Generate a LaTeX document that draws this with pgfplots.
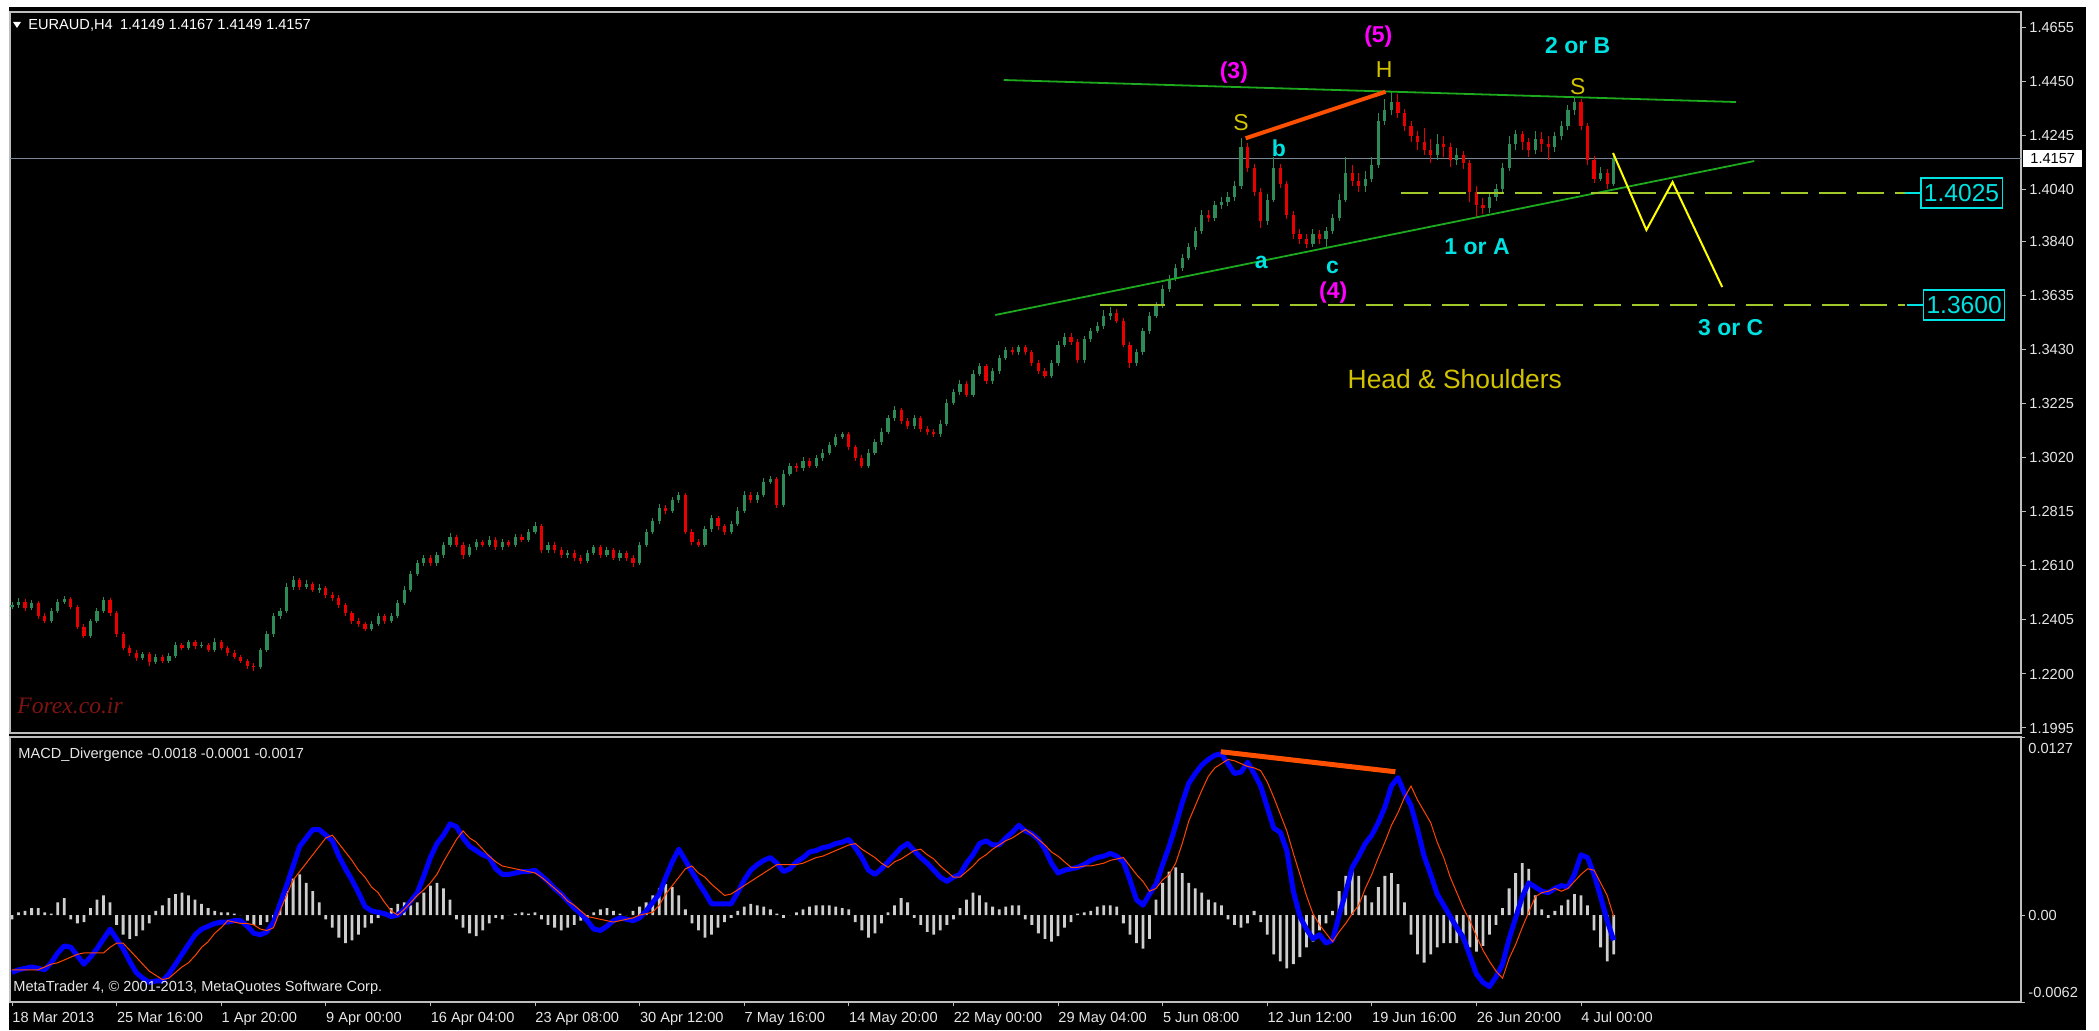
\documentclass[border=0pt]{standalone}
\usepackage{fontspec}
\setmainfont{Liberation Sans}
\newfontfamily\forexfont{Liberation Serif}
\usepackage{pgfplots}
\pgfplotsset{compat=1.18}
\usepackage{pgfplotstable}

\definecolor{framec}{RGB}{190,190,190}
\definecolor{tickc}{RGB}{230,230,230}
\definecolor{upc}{RGB}{46,139,87}
\definecolor{dnc}{RGB}{230,0,0}
\definecolor{trend}{RGB}{30,170,30}
\definecolor{lvl}{RGB}{160,200,40}
\definecolor{cyanl}{RGB}{0,225,225}
\definecolor{magl}{RGB}{255,0,255}
\definecolor{goldc}{RGB}{210,195,0}
\definecolor{oranger}{RGB}{255,80,0}
\definecolor{macdblue}{RGB}{0,0,255}
\definecolor{sigor}{RGB}{255,69,0}
\definecolor{histc}{RGB}{205,205,205}
\definecolor{pline}{RGB}{119,136,153}
\definecolor{forexc}{RGB}{125,20,20}
\definecolor{yel}{RGB}{255,255,0}

\newcommand{\tickfont}{\fontsize{7.3}{8.8}\selectfont}
\newcommand{\annfont}{\bfseries\fontsize{11.5}{13}\selectfont}
\newcommand{\sfont}{\fontsize{11.5}{13}\selectfont}

% EURAUD H4 candles, two 4h bars per candle: index, open, high, low, close, up(1)/down(0)
\pgfplotstableread{
j o h l c u
0 1.2455 1.2472 1.2445 1.2462 1
1 1.2462 1.2487 1.2452 1.2475 1
2 1.2475 1.2485 1.2440 1.2450 0
3 1.2450 1.2480 1.2441 1.2470 1
4 1.2470 1.2478 1.2410 1.2420 0
5 1.2420 1.2430 1.2392 1.2400 0
6 1.2400 1.2450 1.2395 1.2440 1
7 1.2440 1.2485 1.2432 1.2475 1
8 1.2475 1.2495 1.2465 1.2485 1
9 1.2485 1.2492 1.2448 1.2455 0
10 1.2455 1.2462 1.2370 1.2380 0
11 1.2380 1.2390 1.2336 1.2345 0
12 1.2345 1.2410 1.2338 1.2400 1
13 1.2400 1.2450 1.2392 1.2440 1
14 1.2440 1.2492 1.2432 1.2480 1
15 1.2480 1.2488 1.2420 1.2430 0
16 1.2430 1.2438 1.2340 1.2350 0
17 1.2350 1.2358 1.2290 1.2300 0
18 1.2300 1.2310 1.2268 1.2280 0
19 1.2280 1.2290 1.2250 1.2260 0
20 1.2260 1.2285 1.2252 1.2275 1
21 1.2275 1.2283 1.2230 1.2245 0
22 1.2245 1.2275 1.2238 1.2265 1
23 1.2265 1.2272 1.2240 1.2250 0
24 1.2250 1.2280 1.2242 1.2270 1
25 1.2270 1.2322 1.2262 1.2310 1
26 1.2310 1.2318 1.2292 1.2300 0
27 1.2300 1.2330 1.2292 1.2320 1
28 1.2320 1.2328 1.2296 1.2305 0
29 1.2305 1.2320 1.2298 1.2310 1
30 1.2310 1.2318 1.2282 1.2290 0
31 1.2290 1.2336 1.2284 1.2320 1
32 1.2320 1.2328 1.2290 1.2300 0
33 1.2300 1.2308 1.2270 1.2280 0
34 1.2280 1.2290 1.2255 1.2265 0
35 1.2265 1.2272 1.2240 1.2250 0
36 1.2250 1.2258 1.2220 1.2230 0
37 1.2230 1.2240 1.2213 1.2225 0
38 1.2225 1.2300 1.2218 1.2290 1
39 1.2290 1.2362 1.2282 1.2350 1
40 1.2350 1.2430 1.2342 1.2420 1
41 1.2420 1.2450 1.2410 1.2440 1
42 1.2440 1.2545 1.2432 1.2530 1
43 1.2530 1.2572 1.2520 1.2555 1
44 1.2555 1.2565 1.2520 1.2530 0
45 1.2530 1.2555 1.2522 1.2540 1
46 1.2540 1.2550 1.2510 1.2520 0
47 1.2520 1.2540 1.2508 1.2525 1
48 1.2525 1.2535 1.2490 1.2500 0
49 1.2500 1.2512 1.2478 1.2490 0
50 1.2490 1.2498 1.2450 1.2460 0
51 1.2460 1.2470 1.2420 1.2430 0
52 1.2430 1.2440 1.2390 1.2400 0
53 1.2400 1.2412 1.2380 1.2390 0
54 1.2390 1.2398 1.2362 1.2370 0
55 1.2370 1.2402 1.2362 1.2390 1
56 1.2390 1.2430 1.2382 1.2420 1
57 1.2420 1.2428 1.2390 1.2400 0
58 1.2400 1.2432 1.2392 1.2420 1
59 1.2420 1.2480 1.2412 1.2470 1
60 1.2470 1.2532 1.2462 1.2520 1
61 1.2520 1.2592 1.2512 1.2580 1
62 1.2580 1.2632 1.2570 1.2620 1
63 1.2620 1.2652 1.2610 1.2640 1
64 1.2640 1.2650 1.2608 1.2620 0
65 1.2620 1.2662 1.2610 1.2650 1
66 1.2650 1.2702 1.2640 1.2690 1
67 1.2690 1.2735 1.2680 1.2720 1
68 1.2720 1.2728 1.2680 1.2690 0
69 1.2690 1.2700 1.2638 1.2650 0
70 1.2650 1.2692 1.2642 1.2680 1
71 1.2680 1.2712 1.2670 1.2700 1
72 1.2700 1.2710 1.2680 1.2690 0
73 1.2690 1.2722 1.2682 1.2710 1
74 1.2710 1.2718 1.2670 1.2680 0
75 1.2680 1.2712 1.2672 1.2700 1
76 1.2700 1.2710 1.2680 1.2690 0
77 1.2690 1.2730 1.2682 1.2720 1
78 1.2720 1.2730 1.2700 1.2710 0
79 1.2710 1.2752 1.2702 1.2740 1
80 1.2740 1.2776 1.2730 1.2760 1
81 1.2760 1.2770 1.2660 1.2670 0
82 1.2670 1.2702 1.2660 1.2690 1
83 1.2690 1.2700 1.2660 1.2670 0
84 1.2670 1.2680 1.2640 1.2650 0
85 1.2650 1.2672 1.2640 1.2660 1
86 1.2660 1.2670 1.2630 1.2640 0
87 1.2640 1.2652 1.2618 1.2630 0
88 1.2630 1.2672 1.2622 1.2660 1
89 1.2660 1.2690 1.2650 1.2680 1
90 1.2680 1.2688 1.2640 1.2650 0
91 1.2650 1.2680 1.2642 1.2670 1
92 1.2670 1.2678 1.2632 1.2640 0
93 1.2640 1.2670 1.2630 1.2660 1
94 1.2660 1.2668 1.2630 1.2640 0
95 1.2640 1.2650 1.2606 1.2620 0
96 1.2620 1.2700 1.2612 1.2690 1
97 1.2690 1.2752 1.2680 1.2740 1
98 1.2740 1.2792 1.2730 1.2780 1
99 1.2780 1.2845 1.2770 1.2830 1
100 1.2830 1.2842 1.2808 1.2820 0
101 1.2820 1.2872 1.2810 1.2860 1
102 1.2860 1.2890 1.2850 1.2880 1
103 1.2880 1.2885 1.2730 1.2740 0
104 1.2740 1.2752 1.2688 1.2700 0
105 1.2700 1.2712 1.2682 1.2690 0
106 1.2690 1.2762 1.2682 1.2750 1
107 1.2750 1.2805 1.2740 1.2790 1
108 1.2790 1.2798 1.2748 1.2760 0
109 1.2760 1.2770 1.2728 1.2740 0
110 1.2740 1.2782 1.2730 1.2770 1
111 1.2770 1.2832 1.2760 1.2820 1
112 1.2820 1.2895 1.2810 1.2880 1
113 1.2880 1.2890 1.2848 1.2860 0
114 1.2860 1.2892 1.2850 1.2880 1
115 1.2880 1.2942 1.2870 1.2930 1
116 1.2930 1.2950 1.2920 1.2940 1
117 1.2940 1.2948 1.2830 1.2840 0
118 1.2840 1.2975 1.2832 1.2960 1
119 1.2960 1.3002 1.2950 1.2990 1
120 1.2990 1.3000 1.2968 1.2980 0
121 1.2980 1.3022 1.2970 1.3010 1
122 1.3010 1.3020 1.2980 1.2990 0
123 1.2990 1.3032 1.2980 1.3020 1
124 1.3020 1.3052 1.3010 1.3040 1
125 1.3040 1.3082 1.3030 1.3070 1
126 1.3070 1.3112 1.3060 1.3100 1
127 1.3100 1.3120 1.3090 1.3110 1
128 1.3110 1.3118 1.3050 1.3060 0
129 1.3060 1.3070 1.3010 1.3020 0
130 1.3020 1.3030 1.2980 1.2990 0
131 1.2990 1.3052 1.2982 1.3040 1
132 1.3040 1.3092 1.3030 1.3080 1
133 1.3080 1.3132 1.3070 1.3120 1
134 1.3120 1.3182 1.3110 1.3170 1
135 1.3170 1.3217 1.3160 1.3200 1
136 1.3200 1.3210 1.3150 1.3160 0
137 1.3160 1.3170 1.3130 1.3140 0
138 1.3140 1.3182 1.3130 1.3170 1
139 1.3170 1.3180 1.3120 1.3130 0
140 1.3130 1.3140 1.3108 1.3120 0
141 1.3120 1.3130 1.3099 1.3110 0
142 1.3110 1.3162 1.3100 1.3150 1
143 1.3150 1.3242 1.3140 1.3230 1
144 1.3230 1.3282 1.3220 1.3270 1
145 1.3270 1.3315 1.3260 1.3300 1
146 1.3300 1.3310 1.3250 1.3260 0
147 1.3260 1.3352 1.3250 1.3340 1
148 1.3340 1.3380 1.3330 1.3370 1
149 1.3370 1.3378 1.3300 1.3310 0
150 1.3310 1.3362 1.3300 1.3350 1
151 1.3350 1.3412 1.3340 1.3400 1
152 1.3400 1.3442 1.3390 1.3430 1
153 1.3430 1.3440 1.3410 1.3420 0
154 1.3420 1.3448 1.3410 1.3440 1
155 1.3440 1.3450 1.3410 1.3420 0
156 1.3420 1.3430 1.3370 1.3380 0
157 1.3380 1.3390 1.3340 1.3350 0
158 1.3350 1.3360 1.3323 1.3330 0
159 1.3330 1.3392 1.3322 1.3380 1
160 1.3380 1.3462 1.3370 1.3450 1
161 1.3450 1.3495 1.3440 1.3480 1
162 1.3480 1.3492 1.3450 1.3460 0
163 1.3460 1.3470 1.3380 1.3390 0
164 1.3390 1.3482 1.3380 1.3470 1
165 1.3470 1.3512 1.3460 1.3500 1
166 1.3500 1.3535 1.3494 1.3520 1
167 1.3520 1.3580 1.3510 1.3560 1
168 1.3560 1.3592 1.3545 1.3570 1
169 1.3570 1.3585 1.3530 1.3540 0
170 1.3540 1.3550 1.3440 1.3450 0
171 1.3450 1.3460 1.3361 1.3380 0
172 1.3380 1.3432 1.3370 1.3420 1
173 1.3420 1.3512 1.3410 1.3500 1
174 1.3500 1.3572 1.3490 1.3560 1
175 1.3560 1.3612 1.3550 1.3600 1
176 1.3600 1.3675 1.3590 1.3660 1
177 1.3660 1.3715 1.3650 1.3700 1
178 1.3700 1.3755 1.3690 1.3740 1
179 1.3740 1.3795 1.3730 1.3780 1
180 1.3780 1.3835 1.3770 1.3820 1
181 1.3820 1.3895 1.3810 1.3880 1
182 1.3880 1.3960 1.3870 1.3940 1
183 1.3940 1.3960 1.3915 1.3930 0
184 1.3930 1.3995 1.3920 1.3980 1
185 1.3980 1.4010 1.3965 1.3990 1
186 1.3990 1.4030 1.3975 1.4010 1
187 1.4010 1.4070 1.3995 1.4050 1
188 1.4050 1.4234 1.4040 1.4200 1
189 1.4200 1.4215 1.4105 1.4120 0
190 1.4120 1.4135 1.4015 1.4030 0
191 1.4030 1.4045 1.3892 1.3920 0
192 1.3920 1.4020 1.3905 1.4000 1
193 1.4000 1.4162 1.3990 1.4120 1
194 1.4120 1.4135 1.4045 1.4060 0
195 1.4060 1.4070 1.3925 1.3940 0
196 1.3940 1.3955 1.3850 1.3870 0
197 1.3870 1.3890 1.3830 1.3850 0
198 1.3850 1.3870 1.3816 1.3830 0
199 1.3830 1.3890 1.3820 1.3870 1
200 1.3870 1.3885 1.3830 1.3850 0
201 1.3850 1.3895 1.3818 1.3880 1
202 1.3880 1.3945 1.3870 1.3930 1
203 1.3930 1.4020 1.3920 1.4000 1
204 1.4000 1.4162 1.3990 1.4100 1
205 1.4100 1.4130 1.4050 1.4070 0
206 1.4070 1.4100 1.4030 1.4050 0
207 1.4050 1.4110 1.4030 1.4080 1
208 1.4080 1.4160 1.4065 1.4130 1
209 1.4130 1.4330 1.4120 1.4300 1
210 1.4300 1.4380 1.4285 1.4340 1
211 1.4340 1.4408 1.4320 1.4370 1
212 1.4370 1.4400 1.4310 1.4330 0
213 1.4330 1.4345 1.4260 1.4280 0
214 1.4280 1.4300 1.4220 1.4240 0
215 1.4240 1.4260 1.4190 1.4220 0
216 1.4220 1.4270 1.4170 1.4190 0
217 1.4190 1.4230 1.4140 1.4170 0
218 1.4170 1.4250 1.4150 1.4210 1
219 1.4210 1.4240 1.4160 1.4200 0
220 1.4200 1.4215 1.4125 1.4150 0
221 1.4150 1.4195 1.4130 1.4170 1
222 1.4170 1.4185 1.4115 1.4140 0
223 1.4140 1.4150 1.3990 1.4030 0
224 1.4030 1.4050 1.3934 1.3980 0
225 1.3980 1.4005 1.3945 1.3970 0
226 1.3970 1.4025 1.3950 1.4010 1
227 1.4010 1.4060 1.3995 1.4040 1
228 1.4040 1.4140 1.4030 1.4120 1
229 1.4120 1.4240 1.4110 1.4210 1
230 1.4210 1.4264 1.4190 1.4250 1
231 1.4250 1.4260 1.4190 1.4220 0
232 1.4220 1.4235 1.4160 1.4190 0
233 1.4190 1.4260 1.4175 1.4230 1
234 1.4230 1.4255 1.4180 1.4210 0
235 1.4210 1.4240 1.4150 1.4200 0
236 1.4200 1.4255 1.4180 1.4240 1
237 1.4240 1.4300 1.4225 1.4280 1
238 1.4280 1.4360 1.4265 1.4340 1
239 1.4340 1.4389 1.4320 1.4370 1
240 1.4370 1.4380 1.4265 1.4280 0
241 1.4280 1.4290 1.4130 1.4150 0
242 1.4150 1.4165 1.4063 1.4080 0
243 1.4080 1.4125 1.4070 1.4100 1
244 1.4100 1.4115 1.4040 1.4060 0
245 1.4060 1.4177 1.4050 1.4157 1
}\candles

% MACD (m), signal (s), histogram (h), in units of 0.0001
\pgfplotstableread{
j m s h
0 -41 -39 -3
1 -39 -39 2
2 -38 -39 3
3 -37 -39 5
4 -38 -39 5
5 -39 -37 2
6 -34 -35 1
7 -27 -34 9
8 -22 -32 12
9 -23 -30 -3
10 -29 -28 -6
11 -35 -27 -5
12 -30 -27 5
13 -24 -27 11
14 -17 -27 14
15 -10 -23 9
16 -17 -20 -7
17 -24 -20 -14
18 -33 -25 -17
19 -41 -30 -15
20 -45 -35 -11
21 -48 -40 -6
22 -47 -43 3
23 -47 -46 7
24 -42 -45 12
25 -35 -41 15
26 -28 -37 16
27 -21 -34 14
28 -14 -29 11
29 -10 -23 8
30 -8 -19 5
31 -6 -13 3
32 -5 -9 2
33 -5 -4 2
34 -4 -5 1
35 -4 -6 0
36 -8 -6 -4
37 -13 -7 -7
38 -14 -10 -7
39 -12 -11 -5
40 -5 -9 -2
41 8 3 7
42 21 14 17
43 35 25 26
44 49 31 29
45 55 37 23
46 61 43 17
47 61 49 9
48 57 55 -3
49 53 57 -9
50 42 51 -16
51 33 45 -20
52 25 39 -18
53 16 32 -14
54 6 27 -9
55 3 20 -6
56 2 16 -2
57 1 9 2
58 -1 3 5
59 0 0 8
60 4 4 9
61 10 9 7
62 16 14 9
63 28 18 16
64 41 23 21
65 51 29 23
66 57 38 19
67 65 46 11
68 63 54 -3
69 55 60 -9
70 49 55 -13
71 46 52 -15
72 43 47 -11
73 41 42 -6
74 33 38 -2
75 29 35 -3
76 29 34 0
77 30 33 1
78 31 32 2
79 31 31 1
80 32 30 2
81 28 27 -3
82 24 23 -7
83 19 19 -9
84 15 15 -11
85 10 10 -9
86 5 7 -7
87 1 3 -4
88 -4 -1 -2
89 -10 -2 2
90 -11 -3 4
91 -8 -4 5
92 -4 -5 3
93 -2 -4 1
94 -3 -3 0
95 -4 -2 3
96 -2 0 6
97 3 1 9
98 9 2 14
99 15 7 19
100 27 15 22
101 38 21 20
102 47 27 14
103 39 33 4
104 31 35 -6
105 23 30 -11
106 16 27 -16
107 8 22 -14
108 8 18 -9
109 8 14 -5
110 8 15 -2
111 16 18 3
112 25 21 6
113 32 24 8
114 36 27 7
115 39 30 6
116 41 33 4
117 37 36 1
118 31 36 -2
119 33 36 0
120 38 36 2
121 41 37 4
122 45 39 6
123 46 41 7
124 48 42 7
125 49 44 7
126 51 46 6
127 52 48 5
128 54 50 4
129 48 51 -5
130 41 47 -11
131 32 44 -16
132 29 41 -13
133 33 37 -6
134 38 34 2
135 43 38 7
136 48 40 12
137 51 43 9
138 46 46 -2
139 41 47 -7
140 37 43 -12
141 32 40 -14
142 27 35 -11
143 24 31 -7
144 27 27 -3
145 29 27 5
146 37 31 11
147 43 35 16
148 51 40 14
149 53 43 9
150 50 47 6
151 50 50 4
152 55 53 6
153 59 55 7
154 64 58 7
155 60 61 -3
156 58 58 -7
157 54 54 -13
158 47 50 -17
159 37 45 -19
160 30 42 -15
161 32 38 -9
162 33 34 -5
163 34 34 1
164 36 35 2
165 39 35 3
166 41 36 6
167 42 37 7
168 44 39 7
169 42 40 6
170 38 41 -6
171 25 35 -14
172 11 29 -20
173 7 24 -24
174 15 17 -17
175 22 19 11
176 36 25 23
177 49 29 31
178 64 37 34
179 80 51 30
180 94 67 23
181 101 78 19
182 107 89 16
183 111 99 11
184 114 105 9
185 115 108 7
186 108 111 -3
187 101 110 -7
188 102 108 -9
189 109 106 -6
190 101 105 3
191 92 103 -5
192 77 95 -14
193 62 84 -28
194 59 72 -33
195 46 60 -38
196 17 44 -35
197 -1 29 -30
198 -10 14 -23
199 -17 1 -19
200 -14 -7 -11
201 -20 -13 -6
202 -18 -19 3
203 0 -12 17
204 16 -6 28
205 34 1 34
206 42 7 28
207 51 19 14
208 57 29 9
209 66 41 20
210 77 52 28
211 92 64 30
212 98 73 22
213 87 84 9
214 78 92 -14
215 61 82 -28
216 42 74 -34
217 29 66 -28
218 15 52 -23
219 7 41 -20
220 -1 27 -20
221 -9 16 -20
222 -16 5 -19
223 -29 -4 -23
224 -42 -15 -26
225 -48 -25 -22
226 -51 -33 -14
227 -44 -40 -7
228 -35 -45 5
229 -17 -31 19
230 -2 -21 30
231 13 -9 37
232 23 2 33
233 20 13 14
234 17 16 4
235 16 17 -2
236 19 19 3
237 21 17 7
238 20 19 11
239 29 24 15
240 43 29 14
241 41 33 7
242 29 32 -11
243 13 23 -23
244 -4 14 -33
245 -18 -1 -28
}\macd

\begin{document}
\begin{tikzpicture}
\useasboundingbox (0,0) rectangle (1049.5pt,515pt);
\fill[white] (0,0) rectangle (1049.5pt,515pt);
\fill[black] (4.5pt,0) rectangle (1043pt,511.5pt);

% ---------------- main price window ----------------
\begin{axis}[
  at={(5pt,148.5pt)}, anchor=south west, scale only axis,
  width=1005.5pt, height=360.5pt,
  xmin=-0.306, xmax=307.3, ymin=1.1976, ymax=1.4712,
  clip=false,
  axis line style={draw=framec, line width=0.7pt},
  xtick=\empty,
  ytick={1.1995,1.2200,1.2405,1.2610,1.2815,1.3020,1.3225,1.3430,1.3635,1.3840,1.4040,1.4245,1.4450,1.4655},
  yticklabels={1.1995,1.2200,1.2405,1.2610,1.2815,1.3020,1.3225,1.3430,1.3635,1.3840,1.4040,1.4245,1.4450,1.4655},
  ytick pos=right, yticklabel pos=right,
  tick align=outside, major tick length=2.5pt,
  tick style={draw=framec, line width=0.5pt},
  yticklabel style={font=\tickfont, text=tickc, anchor=west, inner sep=0pt, xshift=1.5pt},
]
% current price line
\addplot[pline, line width=0.5pt] coordinates {(-0.306,1.4157) (307.3,1.4157)};

% candles: wick (low-high) and body (open-close), read row by row from the table
\pgfplotsinvokeforeach{0,...,245}{%
  \pgfplotstablegetelem{#1}{o}\of\candles\let\vo\pgfplotsretval
  \pgfplotstablegetelem{#1}{h}\of\candles\let\vh\pgfplotsretval
  \pgfplotstablegetelem{#1}{l}\of\candles\let\vl\pgfplotsretval
  \pgfplotstablegetelem{#1}{c}\of\candles\let\vc\pgfplotsretval
  \ifdim\vc pt<\vo pt\def\ccol{dnc}\else\def\ccol{upc}\fi
  \edef\doplot{%
    \noexpand\addplot[draw=\ccol, line width=0.5pt] coordinates {(#1,\vl) (#1,\vh)};%
    \noexpand\addplot[draw=\ccol, line width=1.6pt] coordinates {(#1,\vo) (#1,\vc)};%
  }\doplot
}

% trend lines
\addplot[trend, line width=0.9pt] coordinates {(151.7,1.44539) (263.7,1.43704)};
\addplot[trend, line width=0.9pt] coordinates {(150.4,1.35622) (266.5,1.41465)};
% horizontal levels
\addplot[lvl, line width=1pt, dash pattern=on 13.5pt off 5.5pt] coordinates {(212.5,1.4025) (289.6,1.4025)};
\addplot[lvl, line width=1pt, dash pattern=on 13.5pt off 5.5pt] coordinates {(166.4,1.3600) (289.6,1.3600)};
\addplot[cyanl, line width=0.6pt] coordinates {(289.6,1.4025) (291.9,1.4025)};
\addplot[cyanl, line width=0.6pt] coordinates {(289.9,1.3600) (292.3,1.3600)};
% shoulder-head line
\addplot[oranger, line width=2pt] coordinates {(188.7,1.42327) (210.1,1.44095)};
% projected path
\addplot[yel, line width=1pt] coordinates {(244.9,1.41769) (250.0,1.38847) (254.0,1.40668) (261.6,1.36684)};

% level boxes
\node[draw=cyanl, text=cyanl, fill=black, line width=0.6pt, font=\fontsize{12.3}{13}\selectfont,
      inner xsep=1.5pt, inner ysep=0pt, minimum height=15pt, anchor=west] at (axis cs:291.9,1.4025) {1.4025};
\node[draw=cyanl, text=cyanl, fill=black, line width=0.6pt, font=\fontsize{12.3}{13}\selectfont,
      inner xsep=1.5pt, inner ysep=0pt, minimum height=15pt, anchor=west] at (axis cs:292.3,1.3600) {1.3600};
% current price box
\node[fill=white, text=black, font=\tickfont, inner xsep=3.5pt, inner ysep=0pt,
      minimum height=8.5pt, anchor=west, xshift=1pt] at (axis cs:307.3,1.4157) {1.4157};

% wave labels
\node[text=magl, font=\annfont] at (axis cs:186.9,1.44804) {(3)};
\node[text=goldc, font=\sfont] at (axis cs:188.0,1.42907) {S};
\node[text=cyanl, font=\annfont] at (axis cs:193.8,1.41959) {b};
\node[text=magl, font=\annfont] at (axis cs:209.0,1.46170) {(5)};
\node[text=goldc, font=\sfont] at (axis cs:209.9,1.44918) {H};
\node[text=cyanl, font=\annfont] at (axis cs:239.5,1.45829) {2 or B};
\node[text=goldc, font=\sfont] at (axis cs:239.5,1.44273) {S};
\node[text=cyanl, font=\annfont] at (axis cs:191.1,1.37633) {a};
\node[text=cyanl, font=\annfont] at (axis cs:202.0,1.37443) {c};
\node[text=magl, font=\annfont] at (axis cs:202.1,1.36456) {(4)};
\node[text=cyanl, font=\annfont] at (axis cs:224.1,1.38202) {1 or A};
\node[text=cyanl, font=\annfont] at (axis cs:262.9,1.35128) {3 or C};
\node[text=goldc, font=\fontsize{13.2}{15}\selectfont] at (axis cs:220.7,1.33193) {Head \& Shoulders};
\end{axis}

% ---------------- MACD window ----------------
\begin{axis}[
  at={(5pt,14pt)}, anchor=south west, scale only axis,
  width=1005.5pt, height=132.5pt,
  xmin=-0.306, xmax=307.3, ymin=-62, ymax=127,
  axis line style={draw=framec, line width=0.7pt},
  xtick={0,16,...,240},
  xticklabels={18 Mar 2013,25 Mar 16:00,1 Apr 20:00,9 Apr 00:00,16 Apr 04:00,23 Apr 08:00,30 Apr 12:00,7 May 16:00,14 May 20:00,22 May 00:00,29 May 04:00,5 Jun 08:00,12 Jun 12:00,19 Jun 16:00,26 Jun 20:00,4 Jul 00:00},
  xtick pos=left, xticklabel pos=left,
  ytick={-62,0,127},
  yticklabels={\smash{\raisebox{2.4pt}{-0.0062}},\smash{\raisebox{-2.6pt}{0.00}},\smash{\raisebox{-8.1pt}{0.0127}}},
  ytick pos=right, yticklabel pos=right,
  tick align=outside, major tick length=2pt,
  tick style={draw=framec, line width=0.5pt},
  yticklabel style={font=\tickfont, text=tickc, anchor=west, inner sep=0pt, xshift=1.5pt},
  xticklabel style={font=\tickfont, text=tickc, anchor=north west, inner sep=0pt, yshift=-3pt},
]
\addplot[ybar, bar width=1.4pt, fill=histc, draw=none] table[x=j, y=h] {\macd};
\addplot[draw=macdblue, line width=2.5pt, line join=round, mark=none] table[x=j, y=m] {\macd};
\addplot[draw=sigor, line width=0.5pt, mark=none] table[x=j, y=s] {\macd};
\addplot[oranger, line width=2.5pt] coordinates {(184.9,116.5) (211.6,102.2)};
\end{axis}

% window texts
\fill[white] (6.5pt,504pt) -- (10.5pt,504pt) -- (8.5pt,501pt) -- cycle;
\node[anchor=west, text=white, font=\tickfont, inner sep=0pt] at (14pt,502.5pt) {EURAUD,H4\enspace 1.4149 1.4167 1.4149 1.4157};
\node[anchor=west, text=forexc, font=\forexfont\itshape\fontsize{11.8}{13}\selectfont, inner sep=0pt] at (8.5pt,162.2pt) {Forex.co.ir};
\node[anchor=west, text=tickc, font=\tickfont, inner sep=0pt] at (9pt,137.5pt) {MACD\_Divergence -0.0018 -0.0001 -0.0017};
\node[anchor=west, text=tickc, font=\tickfont, inner sep=0pt] at (6.5pt,21pt) {MetaTrader 4, © 2001-2013, MetaQuotes Software Corp.};
\end{tikzpicture}
\end{document}
